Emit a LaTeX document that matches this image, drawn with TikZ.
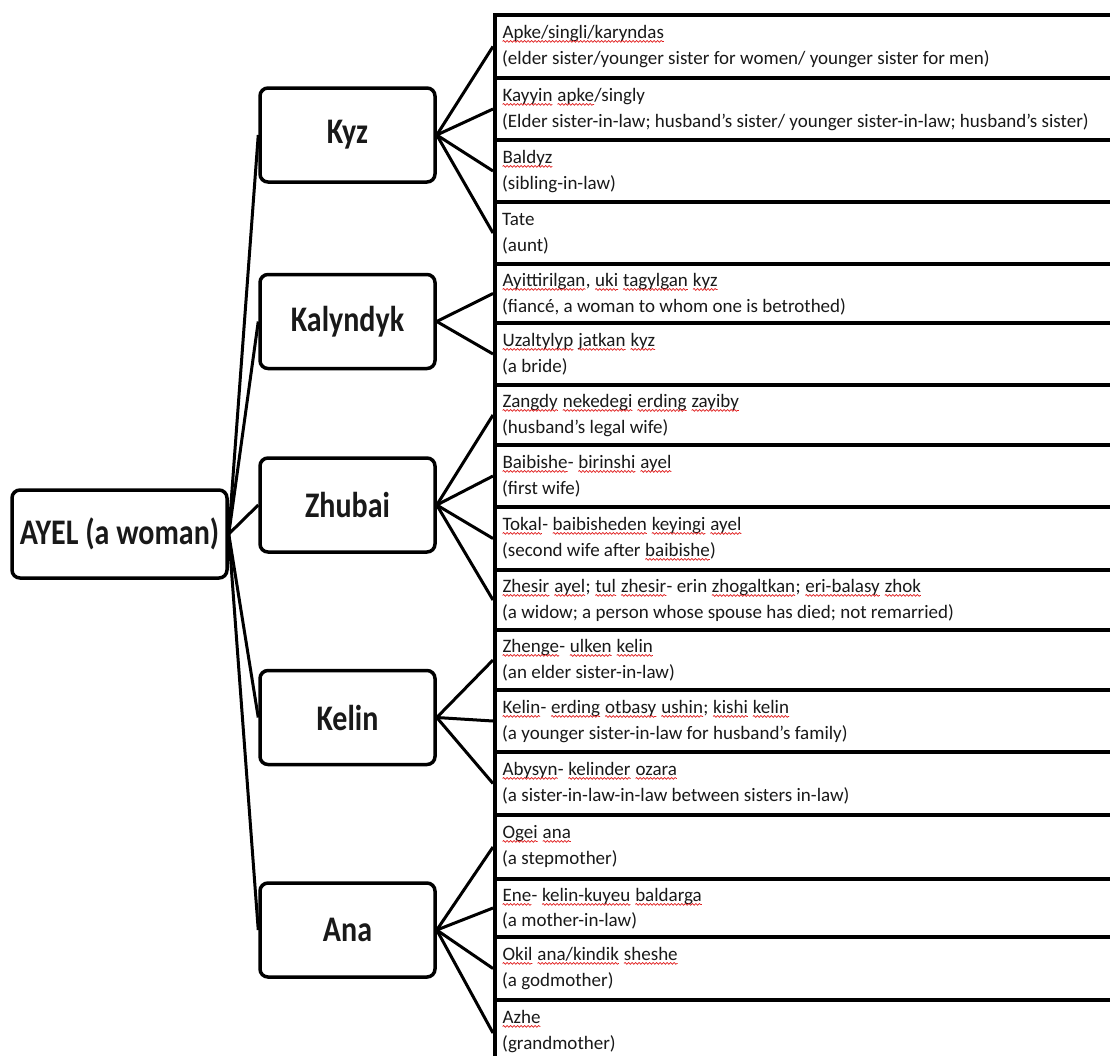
\documentclass[tikz,border=0pt]{standalone}
\usepackage{fontspec}
\setmainfont{Carlito}
\usepackage{graphicx}
\usetikzlibrary{decorations.pathmorphing}
\definecolor{spellred}{RGB}{225,30,30}
\definecolor{ink}{RGB}{25,25,25}
\newcommand\sq[1]{\tikz[baseline=0pt,x=1pt,y=1pt]{\node[inner sep=0pt,outer sep=0pt,anchor=base west,text=ink] (sqw) at (0,0) {#1};
  \draw[spellred,line width=0.7pt,decorate,decoration={snake,amplitude=0.9pt,segment length=3.5pt}] ([yshift=-3.4pt]sqw.base west) -- ([yshift=-3.4pt]sqw.base east);}}
\newcommand\lbl[1]{\scalebox{1}[1.2]{#1}}
\tikzset{
  lblbox/.style={draw=black, line width=3.5pt, rounded corners=8pt, fill=white,
    minimum width=175pt, minimum height=94pt, inner sep=0pt,
    font=\bfseries\fontsize{30}{34}\selectfont, text=ink},
  rootbox/.style={lblbox, minimum width=215pt, minimum height=88pt},
  rowbox/.style={draw=black, line width=4pt, anchor=north west, minimum width=640pt, inner sep=0pt},
  rowtext/.style={anchor=base west, inner sep=0pt, font=\fontsize{19}{23}\selectfont, text=ink},
  conn/.style={draw=black, line width=3pt}
}
\begin{document}
\begin{tikzpicture}[x=1pt,y=-1pt]
\useasboundingbox (0,0) rectangle (1110,1055);
\begin{scope}
\clip (0,0) rectangle (1110,1055);
\fill[white] (0,0) rectangle (1110,1055);
% row boxes
\foreach \i/\t/\b in {1/13/76, 2/76/138, 3/138/200, 4/200/262, 5/262/321, 6/321/383,
  7/383/443, 8/443/505, 9/505/568, 10/568/628, 11/628/688, 12/688/750,
  13/750/813, 14/813/877, 15/877/935, 16/935/998, 17/998/1064}
  \node[rowbox, minimum height={\b-\t}] (r\i) at (493,\t) {};
% row texts
\node[rowtext] (t1a) at ([shift={(9,25)}]r1.north west) {\sq{Apke/singli/karyndas}};
\node[rowtext] (t1b) at ([shift={(9,51)}]r1.north west) {(elder sister/younger sister for women/ younger sister for men)};
\node[rowtext] (t2a) at ([shift={(9,25)}]r2.north west) {\sq{Kayyin} \sq{apke}/singly};
\node[rowtext] (t2b) at ([shift={(9,51)}]r2.north west) {(Elder sister-in-law; husband’s sister/ younger sister-in-law; husband’s sister)};
\node[rowtext] (t3a) at ([shift={(9,25)}]r3.north west) {\sq{Baldyz}};
\node[rowtext] (t3b) at ([shift={(9,51)}]r3.north west) {(sibling-in-law)};
\node[rowtext] (t4a) at ([shift={(9,25)}]r4.north west) {Tate};
\node[rowtext] (t4b) at ([shift={(9,51)}]r4.north west) {(aunt)};
\node[rowtext] (t5a) at ([shift={(9,24)}]r5.north west) {\sq{Ayittirilgan}, \sq{uki} \sq{tagylgan} \sq{kyz}};
\node[rowtext] (t5b) at ([shift={(9,50)}]r5.north west) {(fiancé, a woman to whom one is betrothed)};
\node[rowtext] (t6a) at ([shift={(9,25)}]r6.north west) {\sq{Uzaltylyp} \sq{jatkan} \sq{kyz}};
\node[rowtext] (t6b) at ([shift={(9,51)}]r6.north west) {(a bride)};
\node[rowtext] (t7a) at ([shift={(9,24)}]r7.north west) {\sq{Zangdy} \sq{nekedegi} \sq{erding} \sq{zayiby}};
\node[rowtext] (t7b) at ([shift={(9,50)}]r7.north west) {(husband’s legal wife)};
\node[rowtext] (t8a) at ([shift={(9,25)}]r8.north west) {\sq{Baibishe}- \sq{birinshi} \sq{ayel}};
\node[rowtext] (t8b) at ([shift={(9,51)}]r8.north west) {(first wife)};
\node[rowtext] (t9a) at ([shift={(9,25)}]r9.north west) {\sq{Tokal}- \sq{baibisheden} \sq{keyingi} \sq{ayel}};
\node[rowtext] (t9b) at ([shift={(9,51)}]r9.north west) {(second wife after \sq{baibishe})};
\node[rowtext] (t10a) at ([shift={(9,24)}]r10.north west) {\sq{Zhesir} \sq{ayel}; \sq{tul} \sq{zhesir}- erin \sq{zhogaltkan}; \sq{eri-balasy} \sq{zhok}};
\node[rowtext] (t10b) at ([shift={(9,50)}]r10.north west) {(a widow; a person whose spouse has died; not remarried)};
\node[rowtext] (t11a) at ([shift={(9,24)}]r11.north west) {\sq{Zhenge}- \sq{ulken} \sq{kelin}};
\node[rowtext] (t11b) at ([shift={(9,50)}]r11.north west) {(an elder sister-in-law)};
\node[rowtext] (t12a) at ([shift={(9,25)}]r12.north west) {\sq{Kelin}- \sq{erding} \sq{otbasy} \sq{ushin}; \sq{kishi} \sq{kelin}};
\node[rowtext] (t12b) at ([shift={(9,51)}]r12.north west) {(a younger sister-in-law for husband’s family)};
\node[rowtext] (t13a) at ([shift={(9,25)}]r13.north west) {\sq{Abysyn}- \sq{kelinder} \sq{ozara}};
\node[rowtext] (t13b) at ([shift={(9,51)}]r13.north west) {(a sister-in-law-in-law between sisters in-law)};
\node[rowtext] (t14a) at ([shift={(9,25)}]r14.north west) {\sq{Ogei} \sq{ana}};
\node[rowtext] (t14b) at ([shift={(9,51)}]r14.north west) {(a stepmother)};
\node[rowtext] (t15a) at ([shift={(9,24)}]r15.north west) {\sq{Ene}- \sq{kelin-kuyeu} \sq{baldarga}};
\node[rowtext] (t15b) at ([shift={(9,49)}]r15.north west) {(a mother-in-law)};
\node[rowtext] (t16a) at ([shift={(9,25)}]r16.north west) {\sq{Okil} \sq{ana/kindik} \sq{sheshe}};
\node[rowtext] (t16b) at ([shift={(9,51)}]r16.north west) {(a godmother)};
\node[rowtext] (t17a) at ([shift={(9,25)}]r17.north west) {\sq{Azhe}};
\node[rowtext] (t17b) at ([shift={(9,51)}]r17.north west) {(grandmother)};
% hierarchy boxes
\node[rootbox] (root) at (119.5,534) {\lbl{AYEL (a woman)}};
\node[lblbox] (kyz) at (347.5,135) {\lbl{Kyz}};
\node[lblbox] (kal) at (347.5,321.5) {\lbl{Kalyndyk}};
\node[lblbox] (zhu) at (347.5,505) {\lbl{Zhubai}};
\node[lblbox] (kel) at (347.5,717.5) {\lbl{Kelin}};
\node[lblbox] (ana) at (347.5,930) {\lbl{Ana}};
% connectors
\foreach \c in {kyz,kal,zhu,kel,ana}
  \draw[conn] (root.east) -- (\c.west);
\foreach \r in {1,2,3,4} \draw[conn] (kyz.east) -- (r\r.west);
\foreach \r in {5,6} \draw[conn] (kal.east) -- (r\r.west);
\foreach \r in {7,8,9,10} \draw[conn] (zhu.east) -- (r\r.west);
\foreach \r in {11,12,13} \draw[conn] (kel.east) -- (r\r.west);
\foreach \r in {14,15,16,17} \draw[conn] (ana.east) -- (r\r.west);
\end{scope}
\end{tikzpicture}
\end{document}
